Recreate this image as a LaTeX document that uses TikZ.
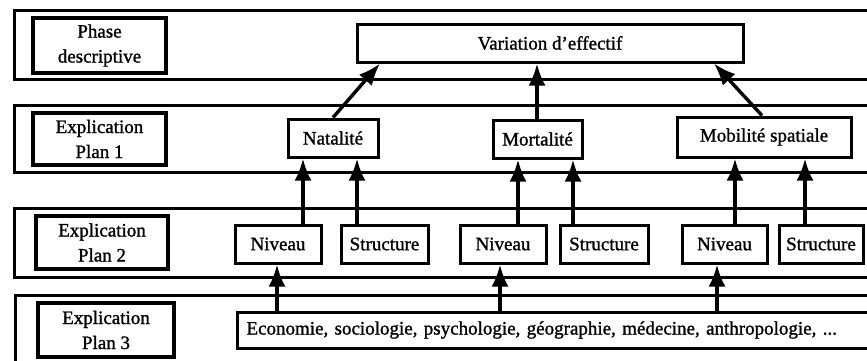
\documentclass[tikz,border=0pt]{standalone}
\usepackage{fontspec}
\setmainfont{Liberation Serif}[BoldFont=Liberation Serif,BoldFeatures={FakeBold=1.2}]
\usetikzlibrary{arrows.meta}
\begin{document}
\begin{tikzpicture}[x=1pt,y=-1pt,
  band/.style={draw,line width=3pt},
  labbox/.style={draw,line width=3.4pt,align=center,inner sep=0pt,font=\fontsize{19}{25}\selectfont\bfseries},
  box/.style={draw,line width=3pt,inner sep=0pt,minimum height=38,font=\fontsize{19}{22}\selectfont\bfseries},
  arr/.style={line width=3.4pt,-{Latex[length=22pt,width=17pt]}}]
\useasboundingbox (0,0) rectangle (867,360);
\clip (0,0) rectangle (867,360);
\fill[white] (0,0) rectangle (867,360);
% bands
\draw[band] (14,10) rectangle (900,79);
\draw[band] (14,105) rectangle (900,172);
\draw[band] (14,208) rectangle (900,277);
\draw[band] (15,295) rectangle (900,380);
% label boxes
\node[labbox,minimum width=133,minimum height=55] (l1) at (99.5,45.5) {Phase\\descriptive};
\node[labbox,minimum width=133,minimum height=52] (l2) at (99.5,139) {Explication\\Plan 1};
\node[labbox,minimum width=132,minimum height=53] (l3) at (102,242.5) {Explication\\Plan 2};
\node[labbox,minimum width=136,minimum height=54] (l4) at (106,330) {Explication\\Plan 3};
% top
\node[box,minimum width=386] (var) at (550,43) {Variation d'effectif};
% plan 1
\node[box,minimum width=90] (nat) at (333,138) {Natalité};
\node[box,minimum width=89] (mor) at (537.5,139) {Mortalité};
\node[box,minimum width=174,minimum height=40] (mob) at (764,137) {Mobilité spatiale};
% plan 2
\node[box,minimum width=86] (niv1) at (278,244) {Niveau};
\node[box,minimum width=87] (str1) at (384.5,244) {Structure};
\node[box,minimum width=86] (niv2) at (503,244) {Niveau};
\node[box,minimum width=88] (str2) at (604,244) {Structure};
\node[box,minimum width=85] (niv3) at (724.5,244) {Niveau};
\node[box,minimum width=84] (str3) at (821,244) {Structure};
% plan 3
\node[box,anchor=west,minimum width=664,minimum height=36,text width=646,align=left,inner xsep=9pt] (eco) at (236,330) {Economie, sociologie, psychologie, géographie, médecine, anthropologie, ...};
% arrows to top
\draw[arr] (nat.north) -- (var.south -| 380,0);
\draw[arr] (mor.north -| 537,0) -- (var.south -| 537,0);
\draw[arr] (mob.north -| 762,0) -- (var.south -| 714,0);
% plan 2 -> plan 1
\draw[arr] (niv1.north -| 303,0) -- (nat.south -| 303,0);
\draw[arr] (str1.north -| 357,0) -- (nat.south -| 357,0);
\draw[arr] (niv2.north -| 518,0) -- (mor.south -| 518,0);
\draw[arr] (str2.north -| 573,0) -- (mor.south -| 573,0);
\draw[arr] (niv3.north -| 735,0) -- (mob.south -| 735,0);
\draw[arr] (str3.north -| 805,0) -- (mob.south -| 805,0);
% plan 3 -> plan 2
\draw[arr] (eco.north -| 277,0) -- (niv1.south -| 277,0);
\draw[arr] (eco.north -| 500,0) -- (niv2.south -| 500,0);
\draw[arr] (eco.north -| 717,0) -- (niv3.south -| 717,0);
\end{tikzpicture}
\end{document}
